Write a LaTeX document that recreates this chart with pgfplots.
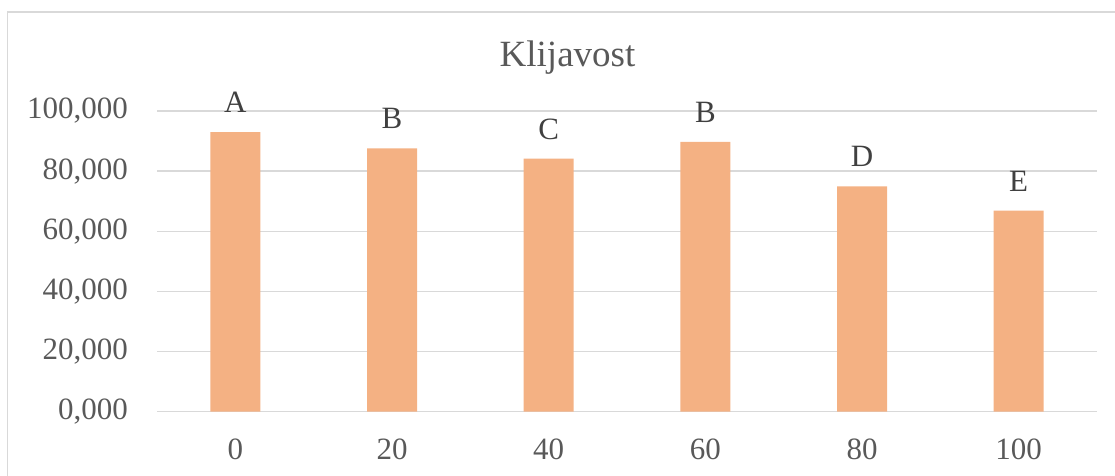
\documentclass[border=0pt]{standalone}
\usepackage{pgfplots}
\pgfplotsset{compat=1.18}
\usepackage{fontspec}
\setmainfont{Liberation Serif}
\definecolor{barc}{HTML}{F4B183}
\definecolor{gridc}{HTML}{D9D9D9}
\definecolor{tickc}{HTML}{595959}
\definecolor{labc}{HTML}{404040}
\begin{document}
\begin{tikzpicture}[x=1pt,y=1pt]
\useasboundingbox (0,0) rectangle (1115,475);
\draw[gridc, line width=1.5pt] (7.5,-10) -- (7.5,463) -- (1130,463);
\node[font=\fontsize{37}{44}\selectfont, text=tickc, anchor=base] at (567.5,408.3) {Klijavost};
\begin{axis}[
  at={(157pt,63.3pt)}, anchor=south west,
  scale only axis, width=940pt, height=300.7pt,
  ybar, bar width=50pt,
  xmin=-0.5, xmax=5.5, ymin=0, ymax=100,
  xtick=data, xticklabels={0,20,40,60,80,100},
  ytick={0,20,40,60,80,100},
  axis line style={draw=none},
  major tick length=0pt,
  ymajorgrids, grid style={gridc, line width=1.4pt},
  tick label style={font=\fontsize{31}{37}\selectfont, text=tickc},
  /pgf/number format/assume math mode=true,
  yticklabel={\pgfmathprintnumber[fixed, fixed zerofill, precision=3, use comma, 1000 sep={}]{\tick}},
  yticklabel style={anchor=east, inner sep=0pt, xshift=-29pt},
  xticklabel style={anchor=base, inner sep=0pt, yshift=-48pt},
  nodes near coords,
  point meta=explicit symbolic,
  every node near coord/.append style={font=\fontsize{31}{37}\selectfont, text=labc, anchor=base, inner sep=0pt, yshift=19.5pt},
  clip=false,
]
\addplot[fill=barc, draw=none] table[meta=lab] {
x y lab
0 93.0 A
1 87.6 B
2 84.2 C
3 89.7 B
4 74.9 D
5 66.9 E
};
\end{axis}
\end{tikzpicture}
\end{document}
